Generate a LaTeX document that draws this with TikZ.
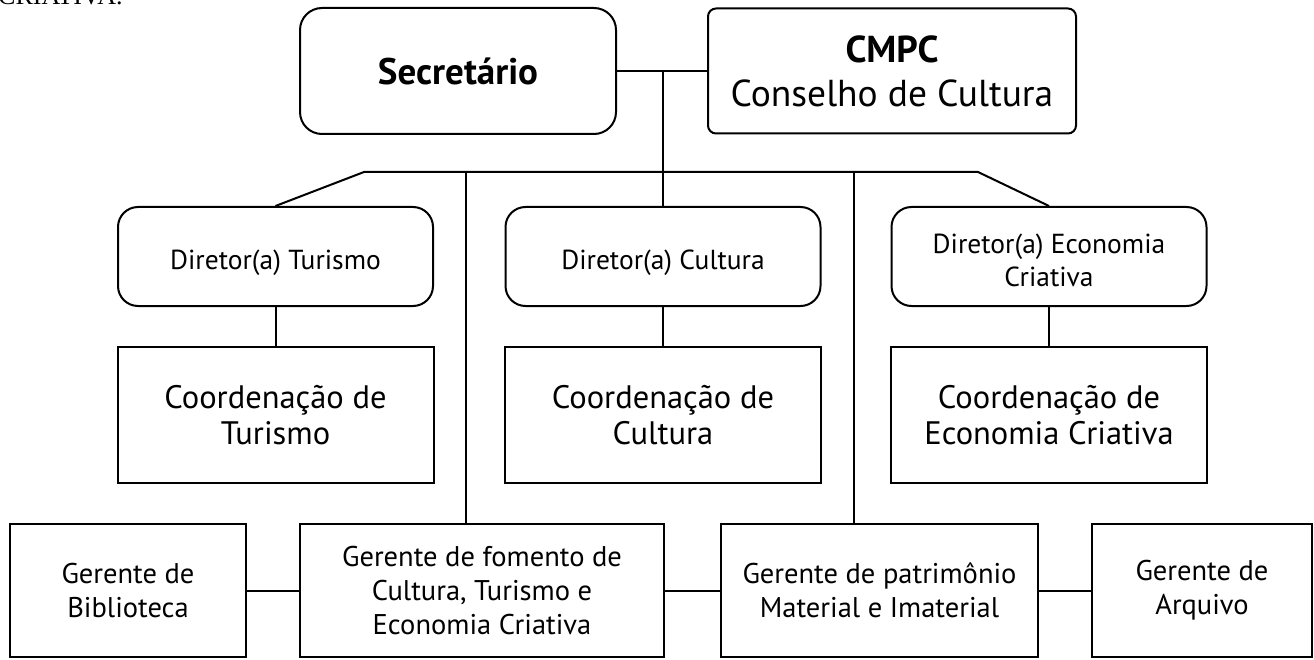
\documentclass[tikz,border=0pt]{standalone}
\usepackage{fontspec}
\setmainfont{PT Sans}
\newfontfamily\cutserif{Liberation Serif}
\usetikzlibrary{calc}
\tikzstyle{diretor}=[draw,line width=2pt,rounded corners=20pt,minimum width=315pt,minimum height=99pt,align=center,font=\fontsize{27.5}{33}\selectfont]
\tikzstyle{coord}=[draw,line width=2pt,minimum width=316pt,minimum height=136pt,align=center,font=\fontsize{32.5}{36}\selectfont]
\tikzstyle{gerente}=[draw,line width=2pt,minimum height=133pt,align=center,font=\fontsize{28.5}{34}\selectfont]
\tikzstyle{link}=[line width=2pt]
\newcommand{\dtext}[1]{\raisebox{-13pt}[0pt][0pt]{\begin{tabular}{@{}c@{}}#1\end{tabular}}}

\begin{document}
\begin{tikzpicture}[x=1pt,y=-1pt]
\useasboundingbox (0,0) rectangle (1314,660);
\node[anchor=base west,inner sep=0pt,font=\cutserif\fontsize{26}{30}\selectfont] (cut) at (-2,5) {CRIATIVA.};

% topo
\node[draw,line width=2pt,rounded corners=22pt,minimum width=316pt,minimum height=126pt,font=\bfseries\fontsize{37}{40}\selectfont] (sec) at (458,71) {Secretário};
\node[draw,line width=2pt,rounded corners=8pt,minimum width=368pt,minimum height=125pt,align=center,font=\fontsize{37.5}{44}\selectfont] (cmpc) at (892,71) {\textbf{CMPC}\\Conselho de Cultura};

% diretores
\node[diretor] (dtur) at (275.5,256.5) {\dtext{Diretor(a) Turismo}};
\node[diretor] (dcul) at (663,256.5) {\dtext{Diretor(a) Cultura}};
\node[diretor] (deco) at (1049,256.5) {\dtext{Diretor(a) Economia\\Criativa}};

% coordenacoes
\node[coord] (ctur) at (275.5,415) {Coordenação de\\Turismo};
\node[coord] (ccul) at (663,415) {Coordenação de\\Cultura};
\node[coord] (ceco) at (1049,415) {Coordenação de\\Economia Criativa};

% gerentes
\node[gerente,minimum width=236pt] (gbib) at (128,590.5) {Gerente de\\Biblioteca};
\node[gerente,minimum width=364pt] (gfom) at (482,590.5) {Gerente de fomento de\\Cultura, Turismo e\\Economia Criativa};
\node[gerente,minimum width=317pt] (gpat) at (879.5,590.5) {Gerente de patrimônio\\Material e Imaterial};
\node[gerente,minimum width=220pt] (garq) at (1202,590.5) {Gerente de\\Arquivo};

\coordinate (junc) at (dcul.north |- sec.east);
\coordinate (busL) at (364,172);
\coordinate (busR) at (978,172);
\coordinate (vL) at (466,172);
\coordinate (vR) at (854,172);

\draw[link] (sec.east) -- (cmpc.west);
\draw[link] (junc) -- (dcul.north);
\draw[link] (dtur.north) -- (busL) -- (busR) -- (deco.north);
\draw[link] (vL) -- (vL |- gfom.north);
\draw[link] (vR) -- (vR |- gpat.north);
\draw[link] (dtur) -- (ctur);
\draw[link] (dcul) -- (ccul);
\draw[link] (deco) -- (ceco);
\draw[link] (gbib) -- (gfom);
\draw[link] (gfom) -- (gpat);
\draw[link] (gpat) -- (garq);
\end{tikzpicture}
\end{document}
